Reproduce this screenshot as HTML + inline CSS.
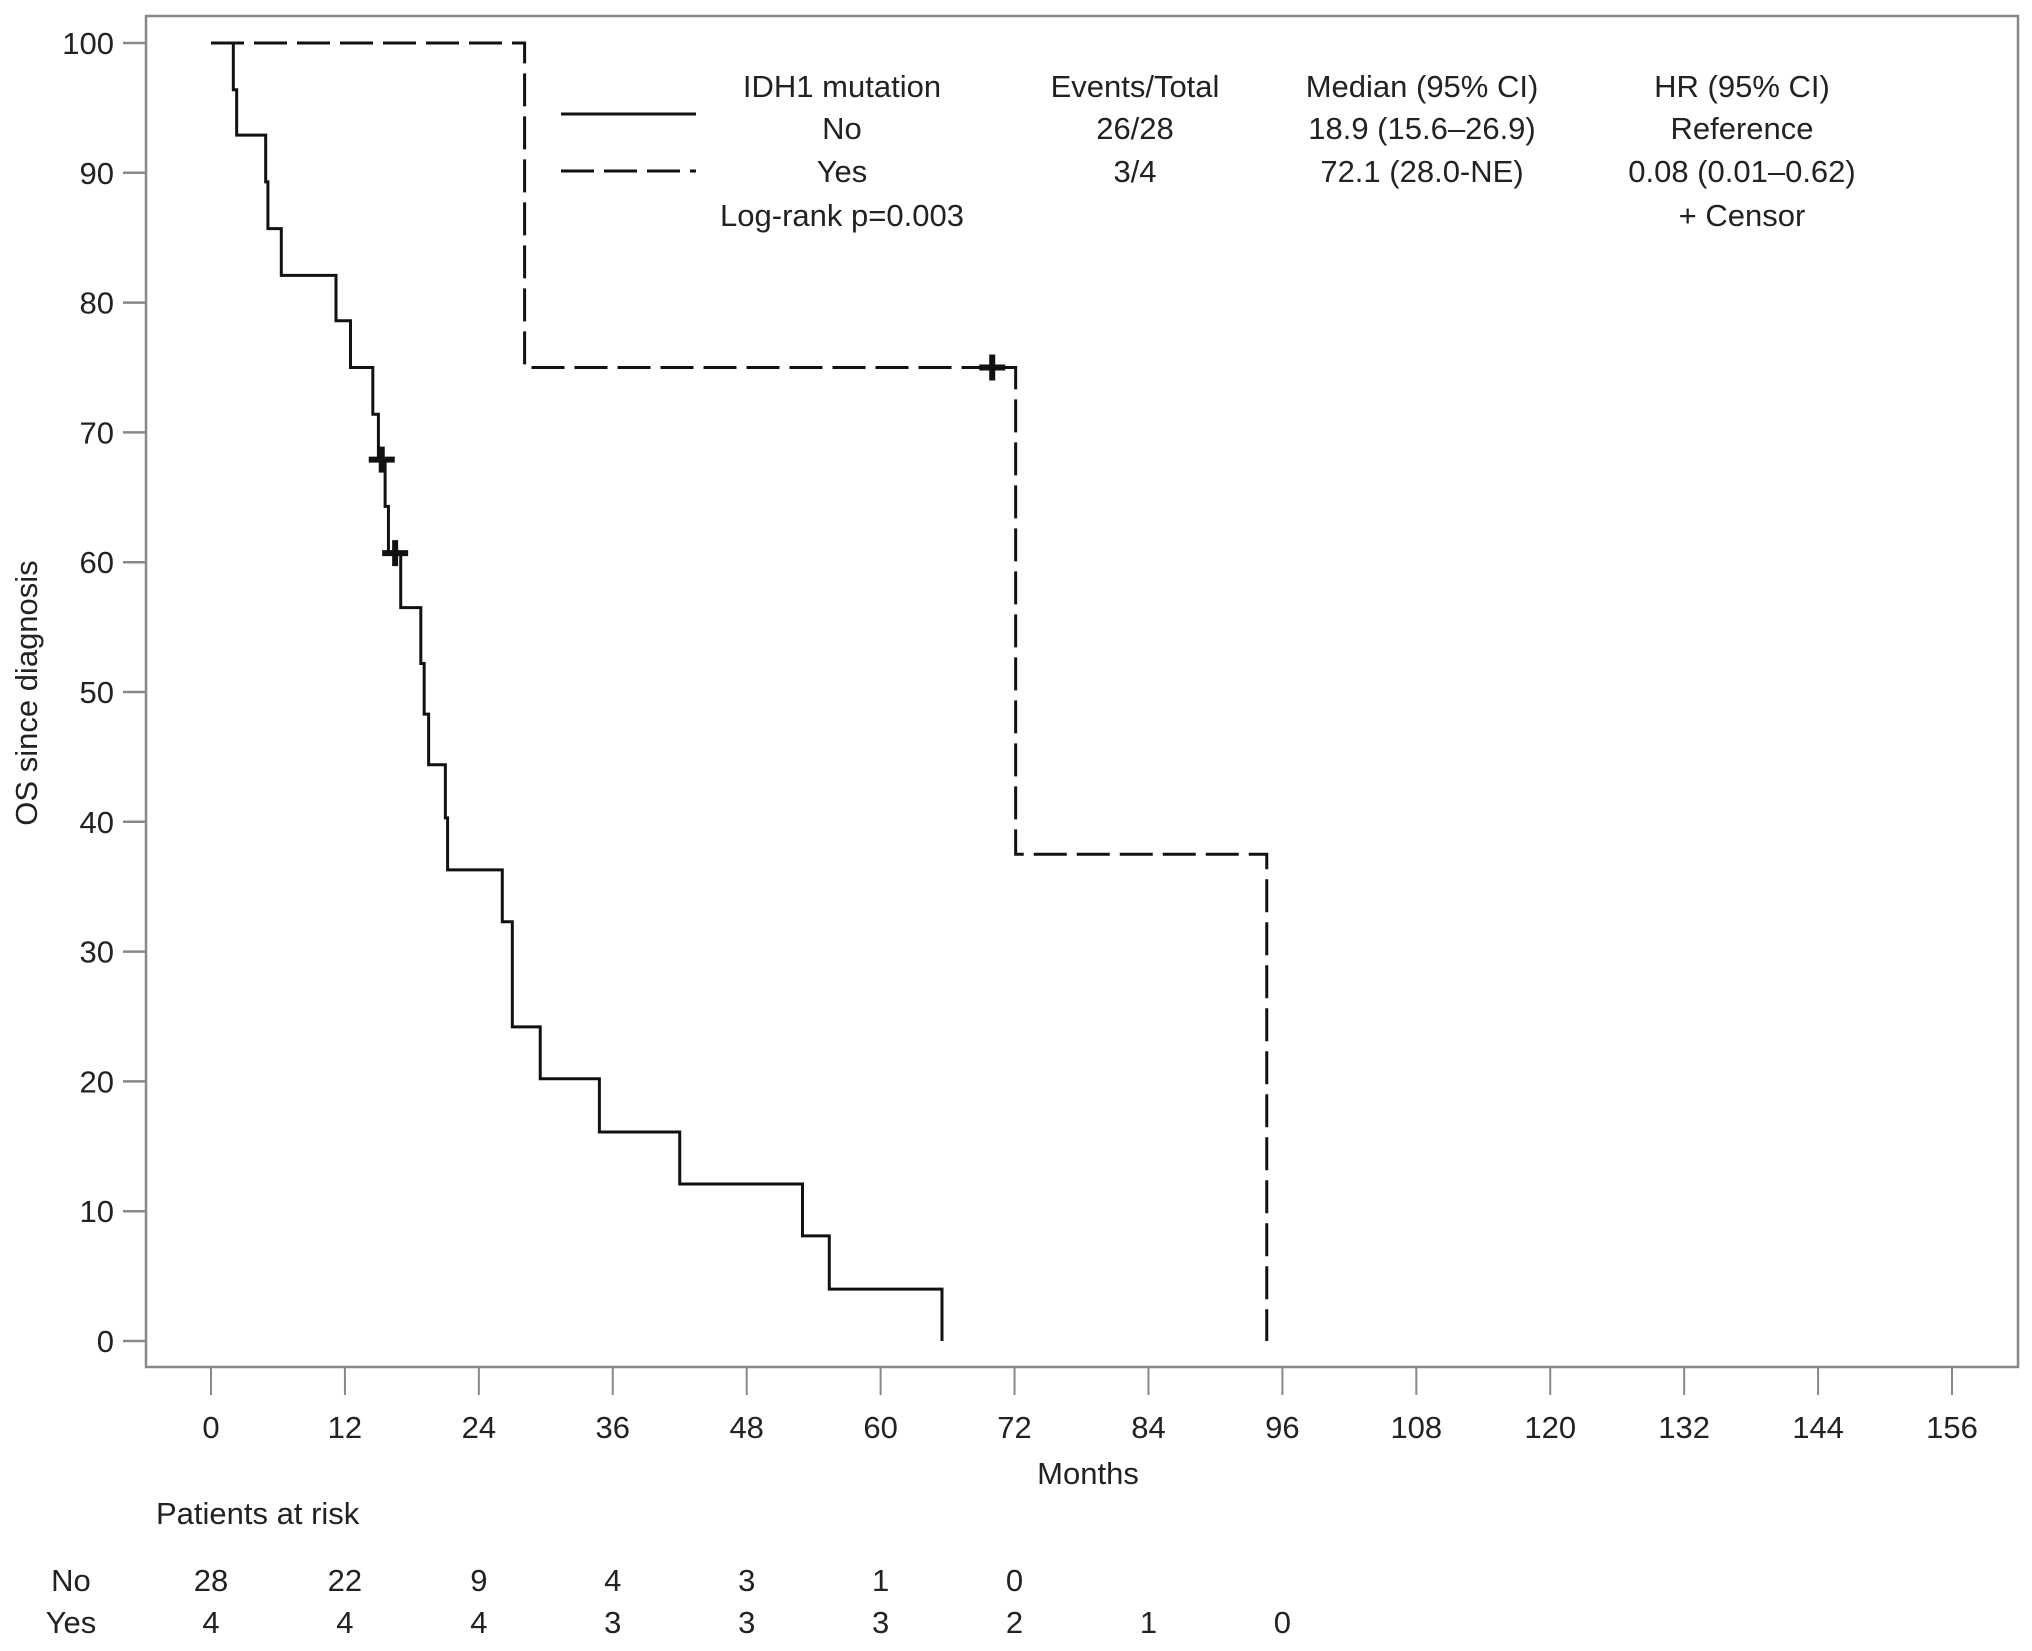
<!DOCTYPE html>
<html><head><meta charset="utf-8"><style>
html,body{margin:0;padding:0;background:#fff;}
svg text{font-family:"Liberation Sans",sans-serif;fill:#222;}
</style></head><body>
<svg id="chart" width="2032" height="1646" viewBox="0 0 2032 1646" xmlns="http://www.w3.org/2000/svg">
<rect x="146" y="16" width="1872" height="1351" fill="none" stroke="#888" stroke-width="2.5"/>
<g id="axes"></g>
<g id="series"></g>
<g font-size="31">
<line x1="561" y1="114" x2="696" y2="114" stroke="#111" stroke-width="3"/>
<line x1="561" y1="171" x2="696" y2="171" stroke="#111" stroke-width="3" stroke-dasharray="33,10"/>
<text x="842" y="97" text-anchor="middle">IDH1 mutation</text>
<text x="1135" y="97" text-anchor="middle">Events/Total</text>
<text x="1422" y="97" text-anchor="middle">Median (95% CI)</text>
<text x="1742" y="97" text-anchor="middle">HR (95% CI)</text>
<text x="842" y="139" text-anchor="middle">No</text>
<text x="1135" y="139" text-anchor="middle">26/28</text>
<text x="1422" y="139" text-anchor="middle">18.9 (15.6–26.9)</text>
<text x="1742" y="139" text-anchor="middle">Reference</text>
<text x="842" y="182" text-anchor="middle">Yes</text>
<text x="1135" y="182" text-anchor="middle">3/4</text>
<text x="1422" y="182" text-anchor="middle">72.1 (28.0-NE)</text>
<text x="1742" y="182" text-anchor="middle">0.08 (0.01–0.62)</text>
<text x="842" y="226" text-anchor="middle">Log-rank p=0.003</text>
<text x="1742" y="226" text-anchor="middle">+ Censor</text>
</g>
<text x="0" y="0" font-size="31" text-anchor="middle" transform="translate(37,693) rotate(-90)">OS since diagnosis</text>
<text x="1088" y="1484" font-size="31" text-anchor="middle">Months</text>
<text x="156" y="1524" font-size="31">Patients at risk</text>
<text x="71" y="1591" font-size="31" text-anchor="middle">No</text>
<text x="71" y="1633" font-size="31" text-anchor="middle">Yes</text>
<g id="risk"></g>
</svg>
<script>
const yTicks=[0,10,20,30,40,50,60,70,80,90,100];
const xTicks=[0,12,24,36,48,60,72,84,96,108,120,132,144,156];
const noTimes=[0,2.0,2.3,4.9,5.1,6.3,11.2,12.5,14.5,15.0,15.6,15.9,17.0,18.8,19.1,19.5,21.0,21.2,26.1,27.0,29.5,34.8,42.0,53.0,55.4,65.5];
const noSurv=[100,96.4,92.9,89.3,85.7,82.1,78.6,75.0,71.4,67.9,64.3,60.7,56.5,52.2,48.3,44.4,40.3,36.3,32.3,24.2,20.2,16.1,12.1,8.1,4.0,0];
const noCensorT=[15.3,16.5];
const noCensorS=[67.9,60.7];
const yesTimes=[0,28.1,72.1,94.6];
const yesSurv=[100,75,37.5,0];
const yesCensorT=[70.0];
const yesCensorS=[75];
const riskTimes=[0,12,24,36,48,60,72,84,96];
const riskNo=[28,22,9,4,3,1,0];
const riskYes=[4,4,4,3,3,3,2,1,0];
const NS='http://www.w3.org/2000/svg';
const X=m=>211+m*(1952-211)/156;
const Y=v=>1341-v*(1341-43)/100;
function mk(tag,attrs,parent){const e=document.createElementNS(NS,tag);for(const k in attrs)e.setAttribute(k,attrs[k]);parent.appendChild(e);return e;}
const axes=document.getElementById('axes'),series=document.getElementById('series'),risk=document.getElementById('risk');
yTicks.forEach(v=>{
  const l=mk('line',{x1:123,x2:146,y1:Y(v),y2:Y(v),stroke:'#888','stroke-width':2.5},axes);
  
  
  const t=mk('text',{x:114,y:Y(v)+11,'font-size':31,'text-anchor':'end'},axes);
  
  
  t.textContent=v;
});
xTicks.forEach(m=>{
  const l=mk('line',{x1:X(m),x2:X(m),y1:1367,y2:1395,stroke:'#888','stroke-width':2},axes);
  
  
  const t=mk('text',{x:X(m),y:1438,'font-size':31,'text-anchor':'middle'},axes);
  
  
  t.textContent=m;
});
function stepPath(ts,ss){let d='M'+X(ts[0])+','+Y(ss[0]);for(let i=1;i<ts.length;i++){d+=' H'+X(ts[i])+' V'+Y(ss[i]);}return d;}
const pNo=mk('path',{d:stepPath(noTimes,noSurv),fill:'none',stroke:'#111','stroke-width':3},series);


const pYes=mk('path',{d:stepPath(yesTimes,yesSurv),fill:'none',stroke:'#111','stroke-width':3,'stroke-dasharray':'33,10'},series);


function censor(t,s){const g=mk('path',{d:'M'+(X(t)-13)+','+Y(s)+' h26 M'+X(t)+','+(Y(s)-13)+' v26',stroke:'#111','stroke-width':6,fill:'none'},series);
  
  }
noCensorT.forEach((t,i)=>censor(t,noCensorS[i]));
yesCensorT.forEach((t,i)=>censor(t,yesCensorS[i]));
riskNo.forEach((n,i)=>{const t=mk('text',{x:X(riskTimes[i]),y:1591,'font-size':31,'text-anchor':'middle'},risk);
  
  
  t.textContent=n;});
riskYes.forEach((n,i)=>{const t=mk('text',{x:X(riskTimes[i]),y:1633,'font-size':31,'text-anchor':'middle'},risk);
  
  
  t.textContent=n;});
</script>
</body></html>
